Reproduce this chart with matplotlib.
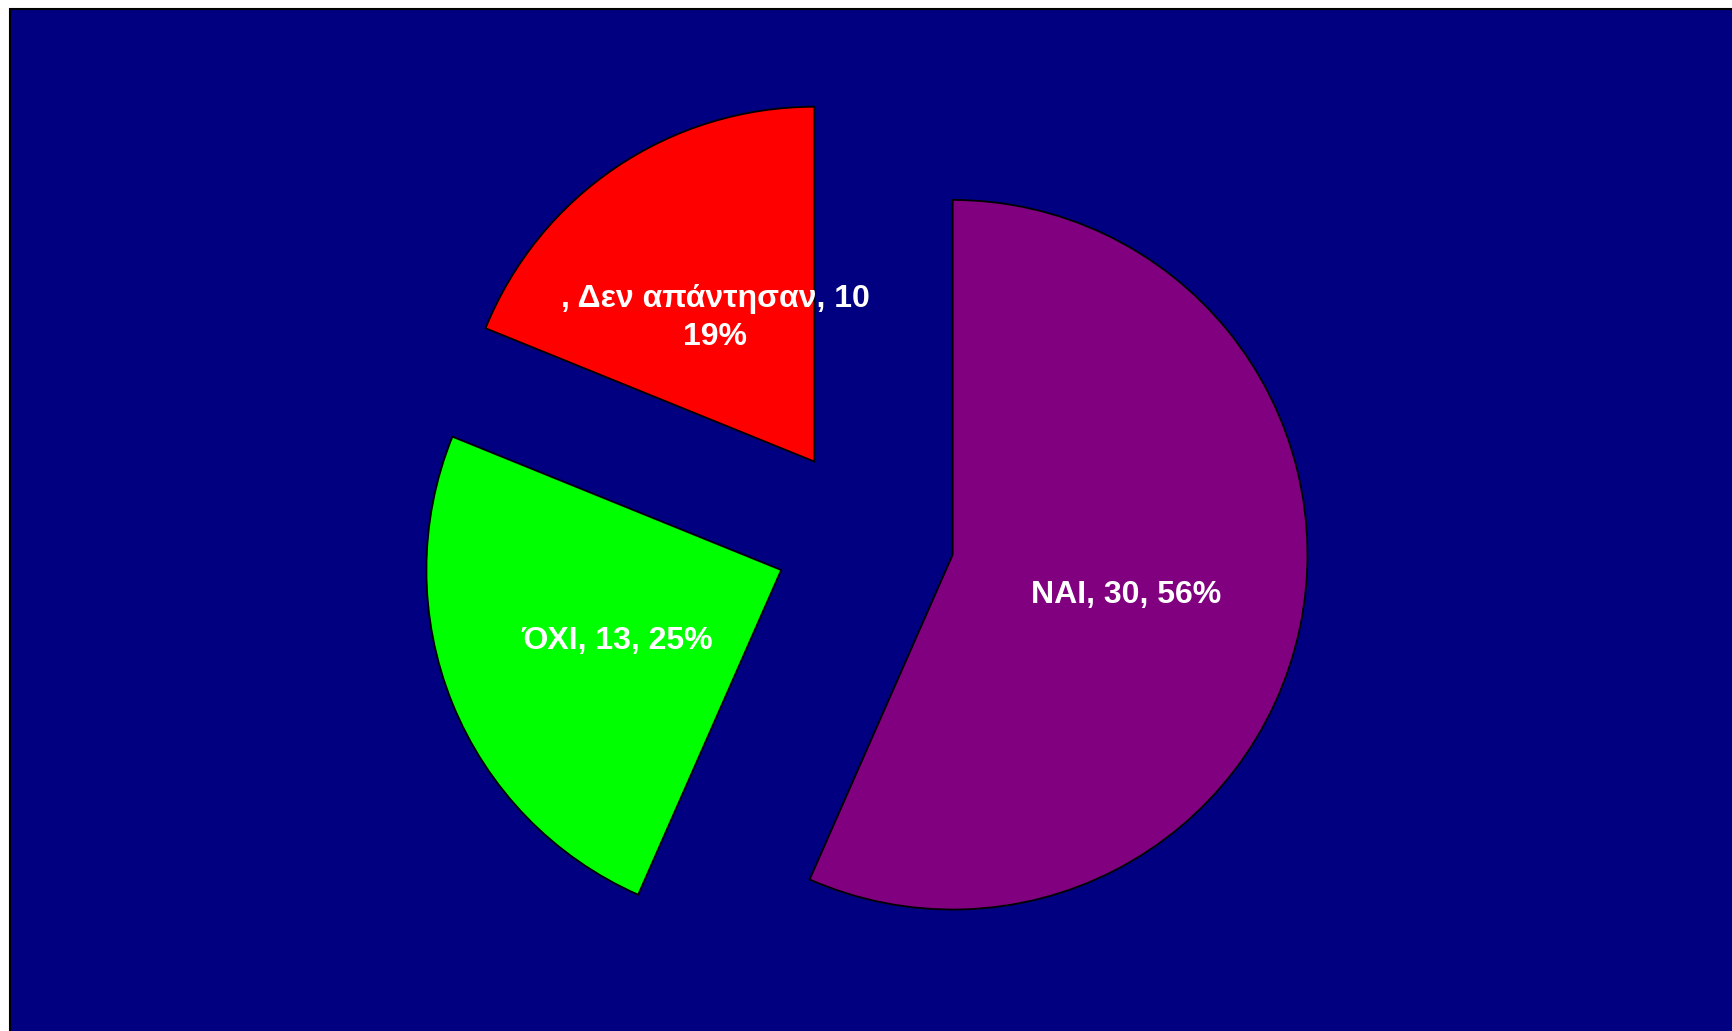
import matplotlib.pyplot as plt
from matplotlib.patches import Rectangle

# Data
labels = ["ΝΑΙ", "ΌΧΙ", ", Δεν απάντησαν"]
values = [30, 13, 10]
colors = ["#800080", "#00FF00", "#FF0000"]
label_texts = ["ΝΑΙ, 30, 56%", "ΌΧΙ, 13, 25%", ", Δεν απάντησαν, 10\n19%"]

W, H = 1733, 1031
fig = plt.figure(figsize=(W / 100, H / 100), dpi=100, facecolor="white")

# navy plot area with black border (runs off right and bottom edges)
fig.patches.append(Rectangle((9.5 / W, -0.05), 1.1, 1.05 - 9 / H, transform=fig.transFigure,
                             facecolor="#000080", edgecolor="black", linewidth=1.5, zorder=-5))

ax = fig.add_axes([0, 0, 1, 1])
ax.patch.set_visible(False)

# explode is in data units (pixels here)
wedges, texts, autotexts = ax.pie(
    values, colors=colors, startangle=90, counterclock=False,
    center=(864.6, H - 536.2), radius=354.8, explode=[90] * 3,
    autopct="%1.0f%%", pctdistance=0.5, labeldistance=None,
    wedgeprops=dict(edgecolor="black", linewidth=1.3), frame=True)

ax.set_xlim(0, W)
ax.set_ylim(0, H)
ax.set_aspect("equal")
ax.axis("off")

for t, s in zip(autotexts, label_texts):
    t.set_text(s)
    t.set_color("white")
    t.set_fontsize(23)
    t.set_fontweight("bold")
    t.set_family("Liberation Sans")
    t.set_ha("center")
    t.set_va("center")
    t.set_linespacing(1.35)
    x, y = t.get_position()
    t.set_position((x, y - 4))

fig.savefig("out.png", dpi=100)
